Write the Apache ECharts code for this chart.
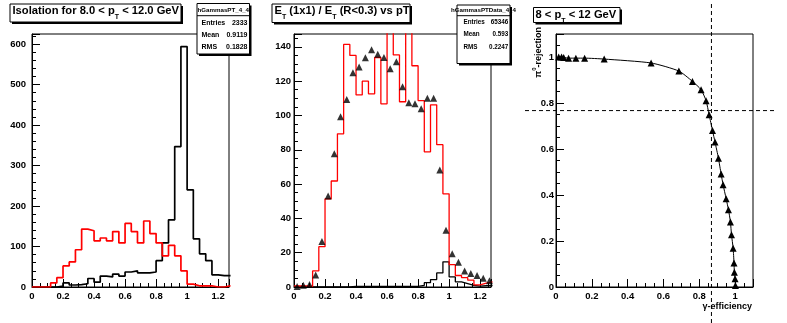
<!DOCTYPE html>
<html>
<head>
<meta charset="utf-8">
<title>Isolation studies</title>
<script src="https://cdn.jsdelivr.net/npm/echarts@6/dist/echarts.min.js"></script>
<style>
  html, body { margin: 0; padding: 0; background: #fff; }
  #c { width: 787px; height: 323px; }
</style>
</head>
<body>
<div id="c"></div>
<script>
// ---- histogram binning (shared by the two isolation panels) ----
const binWidth = 0.04;

// Panel 1: isolation for 8 < pT < 12 GeV
const isoSignal = [0, 0, 0, 0, 2, 10, 5, 6, 8, 21, 12, 27, 25, 32, 27, 37, 40, 35, 35, 37,
                   65, 109, 166, 347, 594, 240, 119, 82, 65, 30, 28, 28];
const isoBackground = [0, 0, 0, 10, 23, 52, 62, 92, 143, 139, 114, 121, 114, 137, 109, 157,
                       137, 109, 163, 132, 109, 77, 103, 77, 40, 7, 3, 3, 3, 0, 0, 3];

// Panel 2: ET(1x1)/ET(R<0.3)
const ratioData = [0.6, 0.6, 0.3, 9.4, 23.5, 51.4, 61.8, 89.3, 141.4, 135, 112, 120, 112.6,
                   133.8, 106.8, 165, 135.3, 108, 160, 129, 108.7, 78.8, 106.2, 83, 54.3,
                   13, 6.7, 5.5, 4, 1.2, 2.3, 3];
const ratioSim = [0, 0, 0, 0, 0, 0, 0, 0, 0, 0.4, 0.4, 0.4, 0.4, 0.4, 0.4, 0.4, 0.4, 0.4, 0.4,
                  0.4, 1, 2.5, 4.3, 8.2, 14.7, 5.9, 3, 2, 1, 0.5, 0.8, 0.8];
const ratioMarkers = [0.3, 1, 1.5, 7, 26.5, 53, 77.7, 99.2, 109.3, 124.9, 128.3, 133.6, 138.3,
                      135.7, 133.8, 127.2, 131.3, 116.7, 107.4, 106.8, 103.9, 110, 110, 68.2,
                      33.1, 19.4, 14.5, 9.4, 7.8, 6.7, 5.1, 3.7];

// Panel 3: pi0 rejection vs photon efficiency
const gammaEff = [0.015, 0.031, 0.043, 0.070, 0.111, 0.160, 0.269, 0.531, 0.686, 0.762, 0.810,
                  0.838, 0.855, 0.874, 0.888, 0.907, 0.922, 0.933, 0.950, 0.963, 0.974, 0.980,
                  0.989, 0.994, 0.996, 1.000, 1.002];
const pi0Rej = [1.0, 1.0, 0.998, 0.995, 0.995, 0.995, 0.991, 0.974, 0.939, 0.894, 0.858, 0.810,
                0.749, 0.680, 0.630, 0.56, 0.491, 0.445, 0.384, 0.336, 0.283, 0.227, 0.169,
                0.104, 0.064, 0.036, 0.007];
const cutEff = 0.868;
const cutRej = 0.767;

// pad titles: [text, is-subscript]
const title1 = [['Isolation for 8.0 < p', false], ['T', true], [' < 12.0 GeV', false]];
const title2 = [['E', false], ['T', true], [' (1x1) / E', false], ['T', true], [' (R<0.3) vs pT', false]];
const title3 = [['8 < p', false], ['T', true], [' < 12 GeV', false]];

// statistics boxes
const stats1 = { name: 'hGammasPT_4_4', rows: [['Entries', '2333'], ['Mean', '0.9119'], ['RMS', '0.1828']] };
const stats2 = { name: 'hGammasPTData_4_4', rows: [['Entries', '65346'], ['Mean', '0.593'], ['RMS', '0.2247']] };

// ---- helpers ----
const FF = '"Liberation Sans", Arial, Helvetica, sans-serif';
const TITLE_SIZE = 11.2;
const SUB_SIZE = 7;

function stepData(values) {
  const pts = values.map((v, i) => [i * binWidth, v]);
  pts.push([values.length * binWidth, values[values.length - 1]]);
  return pts;
}

function labelFmt(major) {
  return function (v) {
    const r = v / major;
    return Math.abs(r - Math.round(r)) < 1e-6 ? String(+v.toFixed(3)) : '';
  };
}

function axisPair(dim, grid, min, max, major, minor, margin) {
  const pos = dim === 'x' ? 'bottom' : 'left';
  const main = {
    type: 'value', gridIndex: grid, position: pos, min: min, max: max, interval: major,
    axisLine: { show: true, onZero: false, lineStyle: { color: '#000', width: 1 } },
    axisTick: { show: true, inside: true, length: 8, lineStyle: { color: '#000', width: 1 } },
    axisLabel: { show: true, margin: margin, color: '#000', fontSize: 9.5, fontWeight: 'bold',
                 fontFamily: FF, formatter: labelFmt(major), showMaxLabel: true, showMinLabel: true },
    splitLine: { show: false }
  };
  const sub = {
    type: 'value', gridIndex: grid, position: pos, min: min, max: max, interval: minor,
    axisLine: { show: false, onZero: false },
    axisTick: { show: true, inside: true, length: 4, lineStyle: { color: '#000', width: 1 } },
    axisLabel: { show: false },
    splitLine: { show: false }
  };
  return [main, sub];
}

const gridBase = { show: true, borderColor: '#000', borderWidth: 1, backgroundColor: 'transparent',
                   top: 34, width: 197, height: 253, containLabel: false, outerBoundsMode: 'none' };

const chart = echarts.init(document.getElementById('c'), null, { renderer: 'canvas' });

chart.setOption({
  animation: false,
  backgroundColor: '#fff',
  grid: [
    Object.assign({}, gridBase, { left: 32 }),
    Object.assign({}, gridBase, { left: 294 }),
    Object.assign({}, gridBase, { left: 556 })
  ],
  xAxis: [].concat(
    axisPair('x', 0, 0, 1.27, 0.2, 0.05, 4),
    axisPair('x', 1, 0, 1.27, 0.2, 0.05, 4),
    axisPair('x', 2, 0, 1.1, 0.2, 0.05, 4)
  ),
  yAxis: [].concat(
    axisPair('y', 0, 0, 625, 100, 20, 6),
    axisPair('y', 1, 0, 147.5, 20, 5, 3),
    axisPair('y', 2, 0, 1.1, 0.2, 0.05, 2)
  ),
  series: [
    { type: 'line', xAxisIndex: 0, yAxisIndex: 0, step: 'end', data: stepData(isoSignal),
      symbol: 'none', clip: true, lineStyle: { color: '#000', width: 1.7 }, silent: true, z: 3 },
    { type: 'line', xAxisIndex: 0, yAxisIndex: 0, step: 'end', data: stepData(isoBackground),
      symbol: 'none', clip: true, lineStyle: { color: '#ff0000', width: 1.7 }, silent: true, z: 4 },

    { type: 'line', xAxisIndex: 2, yAxisIndex: 2, step: 'end', data: stepData(ratioSim),
      symbol: 'none', clip: true, lineStyle: { color: '#000', width: 1.3 }, silent: true, z: 3 },
    { type: 'line', xAxisIndex: 2, yAxisIndex: 2, step: 'end', data: stepData(ratioData),
      symbol: 'none', clip: true, lineStyle: { color: '#ff0000', width: 1.3 }, silent: true, z: 4 },
    { type: 'scatter', xAxisIndex: 2, yAxisIndex: 2,
      data: ratioMarkers.map((v, i) => [(i + 0.5) * binWidth, v]),
      symbol: 'triangle', symbolSize: [7, 7], itemStyle: { color: '#000' }, silent: true, z: 5 },

    { type: 'line', xAxisIndex: 4, yAxisIndex: 4,
      data: gammaEff.map((x, i) => [x, pi0Rej[i]]),
      smooth: 0.2, symbol: 'triangle', symbolSize: [7, 7], showAllSymbol: true,
      itemStyle: { color: '#000' }, lineStyle: { color: '#000', width: 1 }, silent: true, z: 5 }
  ]
});

// ---- annotation boxes, axis titles and cut lines ----
const measureCtx = document.createElement('canvas').getContext('2d');
function textWidth(str, size) {
  measureCtx.font = 'bold ' + size + 'px ' + FF;
  return measureCtx.measureText(str).width;
}

function boxWithShadow(x, y, w, h) {
  return [
    { type: 'rect', z: 100, shape: { x: x + 2, y: y + 2, width: w, height: h }, style: { fill: '#000' } },
    { type: 'rect', z: 101, shape: { x: x, y: y, width: w, height: h },
      style: { fill: '#fff', stroke: '#000', lineWidth: 1 } }
  ];
}

// lays out text pieces left to right, dropping subscripts below the baseline
function titleBox(x, y, w, h, parts, tx, mainY, subY) {
  const els = boxWithShadow(x, y, w, h);
  let cx = tx;
  parts.forEach(p => {
    const size = p[1] ? SUB_SIZE : TITLE_SIZE;
    els.push({ type: 'text', z: 102, x: cx, y: p[1] ? subY : mainY,
               style: { text: p[0], fontSize: size, fontWeight: 'bold', fontFamily: FF, fill: '#000',
                        align: 'left', verticalAlign: 'middle' } });
    cx += textWidth(p[0], size);
  });
  return els;
}

function statsBox(st, x, y, w, h, nameY, sepY, rowYs, lx, rx, fs) {
  const els = boxWithShadow(x, y, w, h);
  els.push({ type: 'line', z: 102, shape: { x1: x, y1: sepY, x2: x + w, y2: sepY },
             style: { stroke: '#000', lineWidth: 1 } });
  els.push({ type: 'text', z: 102, x: x + w / 2, y: nameY,
             style: { text: st.name, fontSize: 6.2, fontWeight: 'bold', fontFamily: FF, fill: '#000',
                      align: 'center', verticalAlign: 'middle' } });
  st.rows.forEach((r, i) => {
    els.push({ type: 'text', z: 102, x: lx, y: rowYs[i],
               style: { text: r[0], fontSize: fs, fontWeight: 'bold', fontFamily: FF, fill: '#000',
                        align: 'left', verticalAlign: 'middle' } });
    els.push({ type: 'text', z: 102, x: rx, y: rowYs[i],
               style: { text: r[1], fontSize: fs, fontWeight: 'bold', fontFamily: FF, fill: '#000',
                        align: 'right', verticalAlign: 'middle' } });
  });
  return els;
}

const cutX = chart.convertToPixel({ xAxisIndex: 4 }, cutEff);
const cutY = chart.convertToPixel({ yAxisIndex: 4 }, cutRej);

const graphics = [].concat(
  titleBox(10, 4, 171, 18, title1, 12.5, 11, 17.5),
  titleBox(272, 4, 138, 18.5, title2, 274.5, 11, 17.5),
  titleBox(533.5, 7.5, 86.5, 15, title3, 535.5, 14.6, 20.8),
  statsBox(stats1, 197, 3.5, 52.5, 50.5, 10.5, 15.7, [23.3, 35, 47.5], 201.5, 247.5, 7),
  statsBox(stats2, 457, 5, 53, 58.5, 10.7, 15.7, [22.7, 34.3, 47], 463.5, 508.3, 6.3),
  [
    { type: 'text', z: 102, x: 537, y: 27, rotation: Math.PI / 2,
      style: { text: '{m|π}{p|0}{m|-rejection}', align: 'right', verticalAlign: 'middle',
               rich: {
                 m: { fontSize: 9, fontWeight: 'bold', fontFamily: FF, fill: '#000', lineHeight: 12, verticalAlign: 'bottom' },
                 p: { fontSize: 6, fontWeight: 'bold', fontFamily: FF, fill: '#000', lineHeight: 7, verticalAlign: 'top' }
               } } },
    { type: 'text', z: 102, x: 752, y: 306.5,
      style: { text: 'γ-efficiency', fontSize: 9, fontWeight: 'bold', fontFamily: FF, fill: '#000',
               align: 'right', verticalAlign: 'middle' } },
    { type: 'line', z: 110, shape: { x1: cutX, y1: 4, x2: cutX, y2: 323 },
      style: { stroke: '#000', lineWidth: 1, lineDash: [4, 3] } },
    { type: 'line', z: 110, shape: { x1: 525, y1: cutY, x2: 776, y2: cutY },
      style: { stroke: '#000', lineWidth: 1, lineDash: [4, 3] } }
  ]
);

chart.setOption({ graphic: { elements: graphics } });
</script>
</body>
</html>
